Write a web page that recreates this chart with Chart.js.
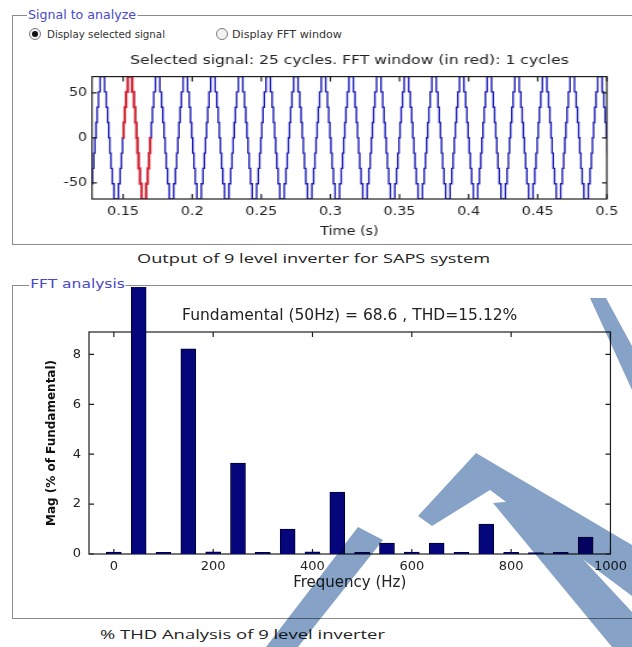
<!DOCTYPE html>
<html>
<head>
<meta charset="utf-8">
<script src="https://cdn.jsdelivr.net/npm/chart.js@4.4.1/dist/chart.umd.min.js"></script>
<style>
  html, body { margin: 0; padding: 0; background: #fff; }
  body { width: 632px; height: 647px; position: relative; overflow: hidden; font-family: "DejaVu Sans", sans-serif; }
  .panel { position: absolute; border: 1px solid #8c8c8c; }
  .ptitle { position: absolute; background: #fff; color: #4848c8; font-size: 13px; line-height: 15px; padding: 0 1px; white-space: nowrap; }
  .radio { position: absolute; width: 10px; height: 10px; border: 1px solid #7c7c7c; border-radius: 50%; background: #f2f2f2; }
  .radio.on::after { content: ''; position: absolute; left: 2px; top: 2px; width: 6px; height: 6px; border-radius: 50%; background: #111; }
  .rlabel { position: absolute; font-size: 10.5px; line-height: 12px; color: #333; white-space: nowrap; }
  .caption { position: absolute; font-family: "Open Sans", sans-serif; font-size: 13px; line-height: 16px; color: #222; white-space: nowrap; }
  canvas { position: absolute; }
  #wm { position: absolute; left: 0; top: 0; mix-blend-mode: multiply; pointer-events: none; }
</style>
</head>
<body>
<div class="panel" style="left:12px;top:15px;width:640px;height:228px"></div>
<div class="ptitle fit" data-w="110" style="left:27px;top:7px">Signal to analyze</div>
<div class="radio on" style="left:29px;top:28px"></div>
<div class="rlabel fit" data-w="118" style="left:47px;top:28px">Display selected signal</div>
<div class="radio" style="left:216px;top:28px"></div>
<div class="rlabel fit" data-w="110" style="left:232px;top:28px">Display FFT window</div>
<canvas id="sig" width="527" height="200" style="left:0;top:48px;width:632px;height:200px"></canvas>
<div class="caption fit" data-w="353" style="left:137px;top:250px">Output of 9 level inverter for SAPS system</div>

<div class="panel" style="left:12px;top:285px;width:640px;height:332px"></div>
<div class="ptitle fit" data-w="97" style="left:29px;top:276px">FFT analysis</div>
<canvas id="fft" width="632" height="310" style="left:0;top:287px;width:632px;height:310px"></canvas>
<div class="caption fit" data-w="285" style="left:100px;top:626px">% THD Analysis of 9 level inverter</div>

<svg id="wm" width="632" height="647">
  <g fill="#86a2c6">
    <polygon points="590,298 606,298 632,346 632,390"/>
    <polygon points="418,516 476,453 632,545 632,596 490,490 432,526"/>
    <polygon points="493,503 528,500 632,612 632,647 612,647"/>
    <polygon points="358,527 383,540 298,647 266,647"/>
  </g>
</svg>

<script>
// one cycle of the 9-level staircase, from the rising zero crossing (ms, volts)
const stepTimesMs = [0, 0.39, 1.22, 2.17, 3.39, 6.61, 7.83, 8.78, 9.61, 10.39, 11.22, 12.17, 13.39, 16.61, 17.83, 18.78, 19.61];
const stepLevels = [0, 17, 34, 51, 68, 51, 34, 17, 0, -17, -34, -51, -68, -51, -34, -17, 0];
const firstCycleStart = 0.01;  // s
const cycleCount = 25;
const periodMs = 20;
const fftWindow = [0.15, 0.17];
const timeTicks = [0.15, 0.2, 0.25, 0.3, 0.35, 0.4, 0.45, 0.5];
const voltTicks = [-50, 0, 50];

// FFT bars
const harmonicFreq = [0, 50, 100, 150, 200, 250, 300, 350, 400, 450, 500, 550, 600, 650, 700, 750, 800, 850, 900, 950];
const harmonicMag = [0.08, 100, 0.07, 8.23, 0.09, 3.65, 0.07, 1.0, 0.09, 2.48, 0.07, 0.44, 0.08, 0.44, 0.07, 1.2, 0.07, 0.06, 0.07, 0.68];
const freqTicks = [0, 200, 400, 600, 800, 1000];
const magTicks = [0, 2, 4, 6, 8];

const FONT = '"DejaVu Sans", sans-serif';

// size html labels to the widths in the picture
document.querySelectorAll('.fit').forEach(el => {
  const w = el.getBoundingClientRect().width;
  el.style.transformOrigin = 'left center';
  el.style.transform = 'scaleX(' + (el.dataset.w / w) + ')';
});

const signal = [];
for (let c = 0; c < cycleCount; c++) {
  const t0 = firstCycleStart + c * periodMs / 1000;
  stepTimesMs.forEach((ms, i) => signal.push({ x: t0 + ms / 1000, y: stepLevels[i] }));
}
signal.push({ x: firstCycleStart + cycleCount * periodMs / 1000, y: 0 });
const windowPart = signal.filter(p => p.x >= fftWindow[0] - 1e-9 && p.x <= fftWindow[1] + 1e-9);

// matlab style box with inward ticks
const axesBox = {
  id: 'axesBox',
  beforeDatasetsDraw(chart, args, opts) { if (!opts.after) drawBox(chart, opts); },
  afterDatasetsDraw(chart, args, opts) { if (opts.after) drawBox(chart, opts); }
};
function drawBox(chart, opts) {
  const { ctx, chartArea: a, scales: { x, y } } = chart;
  const len = opts.len || 5;
  ctx.save();
  ctx.strokeStyle = '#1e1e1e';
  ctx.lineWidth = 1.2;
  ctx.strokeRect(a.left, a.top, a.width, a.height);
  ctx.beginPath();
  x.ticks.forEach(t => {
    const px = x.getPixelForValue(t.value);
    ctx.moveTo(px, a.bottom); ctx.lineTo(px, a.bottom - 5);
    ctx.moveTo(px, a.top); ctx.lineTo(px, a.top + 5);
  });
  y.ticks.forEach(t => {
    const py = y.getPixelForValue(t.value);
    ctx.moveTo(a.left, py); ctx.lineTo(a.left + len, py);
    ctx.moveTo(a.right, py); ctx.lineTo(a.right - len, py);
  });
  ctx.stroke();
  ctx.restore();
}

const noGrid = { display: false, drawTicks: false };

new Chart(document.getElementById('sig'), {
  type: 'line',
  data: {
    datasets: [
      { data: windowPart, borderColor: 'rgba(228,40,40,0.9)', borderWidth: 2.2, stepped: true, pointRadius: 0, order: 0 },
      { data: signal, borderColor: '#1c1cb8', borderWidth: 1.4, stepped: true, pointRadius: 0, order: 1 }
    ]
  },
  options: {
    responsive: false,
    animation: false,
    events: [],
    layout: { padding: { left: 0, right: 21, top: 0, bottom: 7 } },
    plugins: {
      legend: { display: false },
      tooltip: { enabled: false },
      title: {
        display: true, fullSize: false,
        text: 'Selected signal: 25 cycles. FFT window (in red): 1 cycles',
        color: '#222', font: { family: FONT, size: 13, weight: 'normal' },
        padding: { top: 5, bottom: 8 }
      },
      axesBox: { len: 4, after: true }
    },
    scales: {
      x: {
        type: 'linear', min: 0.1275, max: 0.5,
        grid: noGrid, border: { display: false },
        afterBuildTicks: s => { s.ticks = timeTicks.map(v => ({ value: v })); },
        afterFit: s => { s.height = 42; },
        ticks: { padding: 6, color: '#222', font: { family: FONT, size: 12 }, maxRotation: 0, autoSkip: false, callback: v => String(v) },
        title: { display: true, text: 'Time (s)', color: '#222', font: { family: FONT, size: 12 }, padding: { top: 0, bottom: 2 } }
      },
      y: {
        min: -68, max: 68,
        grid: noGrid, border: { display: false },
        afterBuildTicks: s => { s.ticks = voltTicks.map(v => ({ value: v })); },
        afterFit: s => { s.width = 76.7; },
        ticks: { padding: 4, color: '#222', font: { family: FONT, size: 12 }, callback: v => String(v) }
      }
    }
  },
  plugins: [axesBox]
});

new Chart(document.getElementById('fft'), {
  type: 'bar',
  data: {
    datasets: [{
      data: harmonicFreq.map((f, i) => ({ x: f, y: harmonicMag[i] })),
      backgroundColor: '#06067c', borderColor: '#00002e', borderWidth: 1,
      barThickness: 15, clip: false
    }]
  },
  options: {
    responsive: false,
    animation: false,
    events: [],
    layout: { padding: { left: 0, right: 19, top: 0, bottom: 3 } },
    plugins: {
      legend: { display: false },
      tooltip: { enabled: false },
      title: {
        display: true, fullSize: false,
        text: 'Fundamental (50Hz) = 68.6 , THD=15.12%',
        color: '#222', font: { family: FONT, size: 15.5, weight: 'normal' },
        padding: { top: 19.7, bottom: 6.7 }
      },
      axesBox: { len: 5 }
    },
    scales: {
      x: {
        type: 'linear', min: -50, max: 1000, offset: false,
        grid: noGrid, border: { display: false },
        afterBuildTicks: s => { s.ticks = freqTicks.map(v => ({ value: v })); },
        afterFit: s => { s.height = 40; },
        ticks: { padding: 5, color: '#222', font: { family: FONT, size: 13 }, maxRotation: 0, autoSkip: false, callback: v => String(v) },
        title: { display: true, text: 'Frequency (Hz)', color: '#222', font: { family: FONT, size: 15 }, padding: { top: 0, bottom: 2 } }
      },
      y: {
        min: 0, max: 8.9,
        grid: noGrid, border: { display: false },
        afterBuildTicks: s => { s.ticks = magTicks.map(v => ({ value: v })); },
        afterFit: s => { s.width = 89; },
        ticks: { padding: 8, color: '#222', font: { family: FONT, size: 13 }, callback: v => String(v) },
        title: { display: true, text: 'Mag (% of Fundamental)', color: '#111', font: { family: FONT, size: 12, weight: 'bold' }, padding: { top: 45, bottom: 0 } }
      }
    }
  },
  plugins: [axesBox]
});
</script>
</body>
</html>
